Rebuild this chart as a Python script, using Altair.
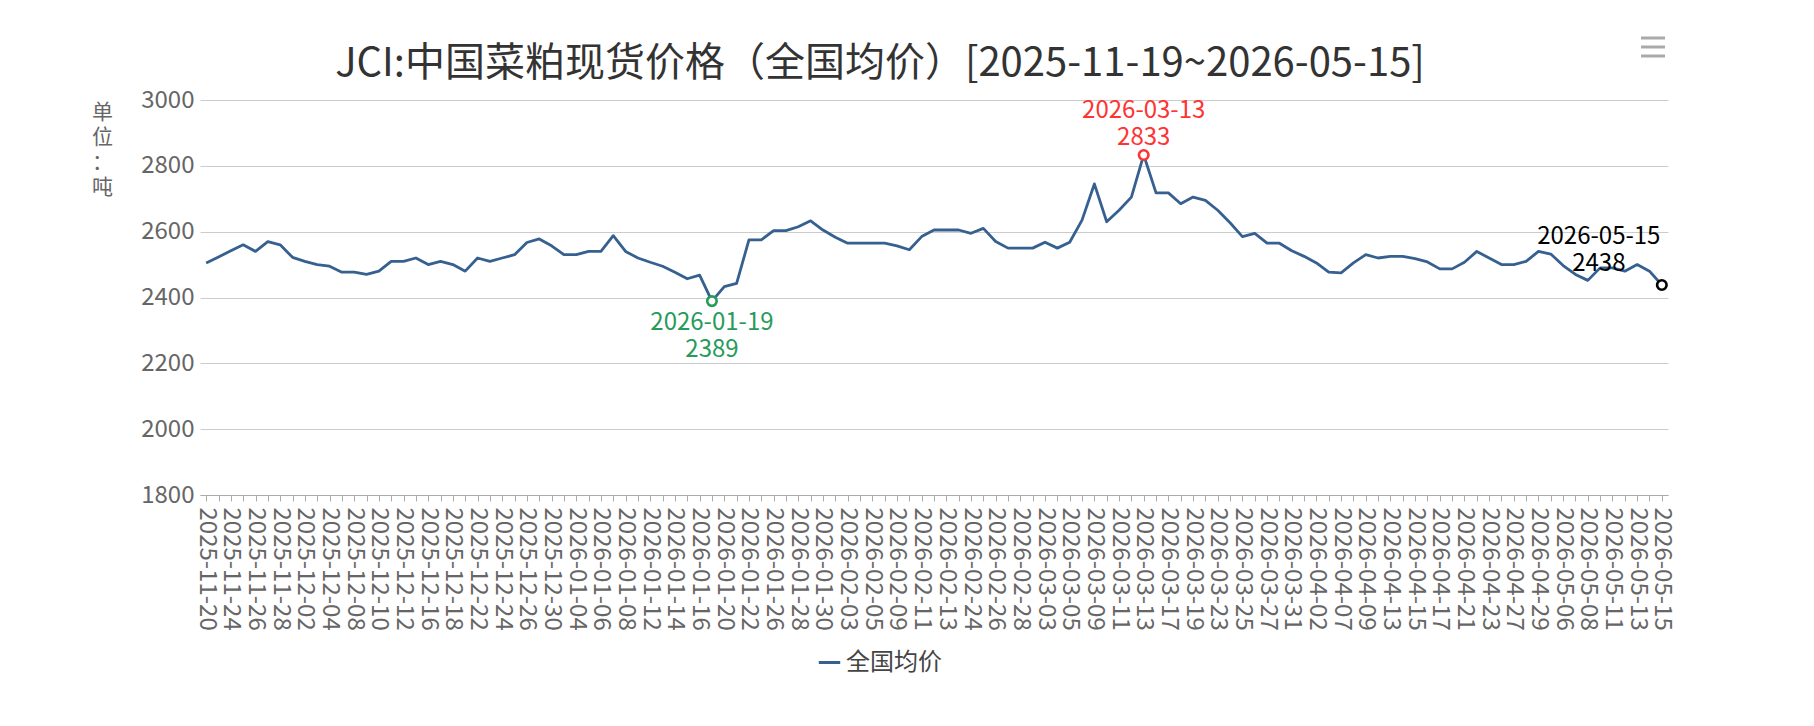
import altair as alt
import pandas as pd

dates = [
    "2025-11-20", "2025-11-21", "2025-11-24", "2025-11-25", "2025-11-26", "2025-11-27", "2025-11-28",
    "2025-12-01", "2025-12-02", "2025-12-03", "2025-12-04", "2025-12-05", "2025-12-08", "2025-12-09",
    "2025-12-10", "2025-12-11", "2025-12-12", "2025-12-15", "2025-12-16", "2025-12-17", "2025-12-18",
    "2025-12-19", "2025-12-22", "2025-12-23", "2025-12-24", "2025-12-25", "2025-12-26", "2025-12-29",
    "2025-12-30", "2025-12-31", "2026-01-04", "2026-01-05", "2026-01-06", "2026-01-07", "2026-01-08",
    "2026-01-09", "2026-01-12", "2026-01-13", "2026-01-14", "2026-01-15", "2026-01-16", "2026-01-19",
    "2026-01-20", "2026-01-21", "2026-01-22", "2026-01-23", "2026-01-26", "2026-01-27", "2026-01-28",
    "2026-01-29", "2026-01-30", "2026-02-02", "2026-02-03", "2026-02-04", "2026-02-05", "2026-02-06",
    "2026-02-09", "2026-02-10", "2026-02-11", "2026-02-12", "2026-02-13", "2026-02-14", "2026-02-24",
    "2026-02-25", "2026-02-26", "2026-02-27", "2026-02-28", "2026-03-02", "2026-03-03", "2026-03-04",
    "2026-03-05", "2026-03-06", "2026-03-09", "2026-03-10", "2026-03-11", "2026-03-12", "2026-03-13",
    "2026-03-16", "2026-03-17", "2026-03-18", "2026-03-19", "2026-03-20", "2026-03-23", "2026-03-24",
    "2026-03-25", "2026-03-26", "2026-03-27", "2026-03-30", "2026-03-31", "2026-04-01", "2026-04-02",
    "2026-04-03", "2026-04-07", "2026-04-08", "2026-04-09", "2026-04-10", "2026-04-13", "2026-04-14",
    "2026-04-15", "2026-04-16", "2026-04-17", "2026-04-20", "2026-04-21", "2026-04-22", "2026-04-23",
    "2026-04-24", "2026-04-27", "2026-04-28", "2026-04-29", "2026-04-30", "2026-05-06", "2026-05-07",
    "2026-05-08", "2026-05-09", "2026-05-11", "2026-05-12", "2026-05-13", "2026-05-14", "2026-05-15",
]

prices = [
    2505, 2523, 2542, 2560, 2540, 2570, 2560, 2522, 2510, 2500,
    2495, 2477, 2477, 2470, 2480, 2510, 2510, 2520, 2500, 2510,
    2500, 2480, 2520, 2510, 2520, 2530, 2567, 2578, 2557, 2530,
    2530, 2540, 2540, 2588, 2540, 2520, 2507, 2495, 2477, 2457,
    2468, 2389, 2433, 2443, 2575, 2575, 2603, 2603, 2615, 2633,
    2605, 2583, 2565, 2565, 2565, 2565, 2557, 2545, 2585, 2605,
    2605, 2605, 2595, 2610, 2570, 2550, 2550, 2550, 2568, 2550,
    2568, 2635, 2745, 2630, 2665, 2705, 2833, 2718, 2718, 2685,
    2705, 2695, 2665, 2627, 2585, 2595, 2565, 2565, 2542, 2525,
    2505, 2477, 2475, 2505, 2530, 2520, 2525, 2525, 2518, 2508,
    2487, 2487, 2507, 2540, 2520, 2500, 2500, 2510, 2540, 2532,
    2497, 2470, 2452, 2490, 2490, 2480, 2500, 2480, 2438,
]

series_name = "全国均价"
y_ticks = [1800, 2000, 2200, 2400, 2600, 2800, 3000]

ann_kind = ["min", "max", "last"]
ann_dates = ["2026-01-19", "2026-03-13", "2026-05-15"]
ann_vals = [2389, 2833, 2438]

title_text = "JCI:中国菜粕现货价格（全国均价）[2025-11-19~2026-05-15]"
unit_lines = ["单", "位", "：", "吨"]

FONT = "Noto Sans CJK SC"
LINE_COLOR = "#36608f"

df = pd.DataFrame({"date": dates, "price": prices, "series": [series_name] * len(dates)})
ann = pd.DataFrame({"kind": ann_kind, "date": ann_dates, "price": ann_vals})

shown = dates[::2]
label_expr = "indexof([" + ",".join("'" + d + "'" for d in shown) + "], datum.value) >= 0 ? datum.value : ''"

x_enc = alt.X(
    "date:O",
    sort=dates,
    scale=alt.Scale(domain=dates, paddingInner=0, paddingOuter=0),
    axis=alt.Axis(
        title=None,
        labelAngle=90,
        labelExpr=label_expr,
        labelOverlap=False,
        labelFontSize=24,
        labelColor="#666666",
        labelPadding=6,
        labelFont=FONT,
        tickSize=6,
        tickColor="#aaaaaa",
        domainColor="#aaaaaa",
        grid=False,
    ),
)
y_enc = alt.Y(
    "price:Q",
    scale=alt.Scale(domain=[1800, 3000], nice=False, zero=False),
    axis=alt.Axis(
        values=y_ticks,
        format="d",
        title=unit_lines,
        titleAngle=0,
        titleAlign="center",
        titleBaseline="top",
        titleX=-98,
        titleY=1,
        titleFontSize=21,
        titleLineHeight=25,
        titleColor="#666666",
        titleFontWeight="normal",
        titleFont=FONT,
        labelFontSize=24,
        labelColor="#666666",
        labelPadding=6,
        labelFont=FONT,
        domain=False,
        ticks=False,
        grid=True,
        gridColor="#cccccc",
        gridWidth=1,
    ),
)

line = alt.Chart(df).mark_line(strokeWidth=2.8, strokeJoin="round").encode(
    x=x_enc,
    y=y_enc,
    color=alt.Color(
        "series:N",
        scale=alt.Scale(domain=[series_name], range=[LINE_COLOR]),
        legend=alt.Legend(
            title=None,
            orient="none",
            legendX=617,
            legendY=550,
            symbolType="stroke",
            symbolSize=460,
            symbolStrokeWidth=3,
            labelFontSize=24,
            labelColor="#444444",
            labelFont=FONT,
        ),
    ),
)

colors = {"min": "#279b5a", "max": "#ff3333", "last": "#000000"}


def marker(kind):
    return alt.Chart(ann).transform_filter(alt.datum.kind == kind).mark_point(
        shape="circle", size=90, filled=True, fill="white", stroke=colors[kind], strokeWidth=2.6, opacity=1
    ).encode(x=alt.X("date:O", sort=dates), y="price:Q")


def label(kind, dx, dy):
    return alt.Chart(ann).transform_filter(alt.datum.kind == kind).transform_calculate(
        lab="datum.date + '|' + datum.price"
    ).mark_text(
        font=FONT, fontSize=24, color=colors[kind], align="center", baseline="middle",
        lineBreak="|", lineHeight=27, dx=dx, dy=dy
    ).encode(x=alt.X("date:O", sort=dates), y="price:Q", text="lab:N")


layers = [
    line,
    marker("min"), marker("max"), marker("last"),
    label("min", 0, 22),
    label("max", 0, -44),
    label("last", -63, -48),
]

menu = [
    alt.Chart(pd.DataFrame({"k": [0]})).mark_rule(color="#aaaaaa", strokeWidth=3).encode(
        x=alt.value(1441), x2=alt.value(1465), y=alt.value(yy)
    )
    for yy in (-62, -53, -44)
]

chart = alt.layer(*layers, *menu).properties(
    width=1468,
    height=395,
    padding={"left": 192, "top": 92, "right": 138, "bottom": 223},
    autosize=alt.AutoSizeParams(type="none"),
    background="white",
    title=alt.TitleParams(
        text=title_text,
        font=FONT,
        fontSize=40,
        fontWeight="normal",
        color="#333333",
        anchor="middle",
        frame="group",
        offset=16,
        dx=-54,
        dy=63,
    ),
).configure_view(stroke=None)

chart.save("out.html", embed_options={"renderer": "svg", "actions": False})
